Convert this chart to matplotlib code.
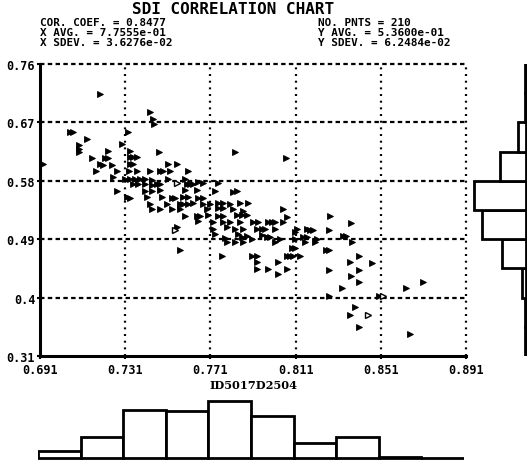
import matplotlib
matplotlib.use("Agg")
import matplotlib.pyplot as plt
import numpy as np

plt.rcParams['lines.scale_dashes'] = False

# ---------------- data ----------------
title = "SDI CORRELATION CHART"
stats_left = ["COR. COEF. = 0.8477", "X AVG. = 7.7555e-01", "X SDEV. = 3.6276e-02"]
stats_right = ["NO. PNTS = 210", "Y AVG. = 5.3600e-01", "Y SDEV. = 6.2484e-02"]
x_label = "ID5017D2504"

x_ticks = [0.691, 0.731, 0.771, 0.811, 0.851, 0.891]
x_tick_labels = ["0.691", "0.731", "0.771", "0.811", "0.851", "0.891"]
y_ticks = [0.31, 0.40, 0.49, 0.58, 0.67, 0.76]
y_tick_labels = ["0.31", "0.4", "0.49", "0.58", "0.67", "0.76"]

x_filled = [
    0.6924, 0.7192, 0.7051, 0.7065, 0.7131, 0.7093, 0.7093, 0.7093, 0.7229, 0.7154,
    0.7215, 0.7229, 0.7192, 0.7206, 0.7248, 0.7173, 0.7272, 0.7253,
    0.7295, 0.7323, 0.7333, 0.7333, 0.7347, 0.7365, 0.7333, 0.7347, 0.7328, 0.7365,
    0.7333, 0.7356, 0.7380, 0.7403, 0.7309, 0.7347, 0.7370, 0.7403, 0.7272, 0.7318, 0.7333,
    0.7426, 0.7441, 0.7445, 0.7469, 0.7826, 0.8065, 0.7511, 0.7553, 0.7426, 0.7473,
    0.7487, 0.7520, 0.7605, 0.7436, 0.7511, 0.7591, 0.7652, 0.7675, 0.7746, 0.7436,
    0.7459, 0.7473, 0.7600, 0.7614, 0.7628,
    0.7403, 0.7436, 0.7473, 0.7591, 0.7647, 0.7732, 0.7816, 0.7835,
    0.7412, 0.7483, 0.7530, 0.7544, 0.7581, 0.7605, 0.7652, 0.7675,
    0.7426, 0.7506, 0.7567, 0.7581, 0.7605, 0.7628, 0.7675, 0.7708, 0.7746, 0.7769,
    0.7802, 0.7849, 0.7887,
    0.7436, 0.7473, 0.7530, 0.7567, 0.7694, 0.7746, 0.7769, 0.7816, 0.7863, 0.8051,
    0.7591, 0.7647, 0.7661, 0.7699, 0.7746, 0.7769, 0.7835, 0.7858, 0.7882, 0.8070, 0.8272,
    0.7652, 0.7722, 0.7769, 0.7802, 0.7849, 0.7910, 0.7934, 0.7980, 0.7999, 0.8013,
    0.8051, 0.8370,
    0.7553, 0.7722, 0.7788, 0.7826, 0.7863, 0.7929, 0.7952, 0.7966, 0.8013, 0.8117,
    0.8164, 0.8178, 0.8192, 0.8267,
    0.7732, 0.7840, 0.7952, 0.7976, 0.7990, 0.7779, 0.7858, 0.7882, 0.7905, 0.8037,
    0.8107, 0.8107, 0.8145, 0.8164, 0.8211, 0.8333, 0.8347, 0.7788, 0.7863, 0.8013,
    0.8154, 0.8201, 0.8375, 0.7826,
    0.7567, 0.8093, 0.8107, 0.8253, 0.8267, 0.7765, 0.7905, 0.7929, 0.8070, 0.8084,
    0.8098, 0.8131, 0.8408,
    0.7929, 0.8027, 0.8365, 0.8469, 0.7929, 0.7980, 0.8070, 0.8267, 0.8408, 0.8027, 0.8370,
    0.8408, 0.8708, 0.8328, 0.8628, 0.8267, 0.8502, 0.8389, 0.8365, 0.8408, 0.8647,
]
y_filled = [
    0.6059, 0.7138, 0.6552, 0.6552, 0.6444, 0.6352, 0.6290, 0.6244, 0.6259, 0.6151,
    0.6151, 0.6151, 0.6059, 0.6043, 0.6043, 0.5951, 0.5951, 0.5859,
    0.6367, 0.6552, 0.6259, 0.6167, 0.6167, 0.6167, 0.6059, 0.6059, 0.5951, 0.5951,
    0.5828, 0.5828, 0.5828, 0.5828, 0.5828, 0.5751, 0.5751, 0.5751, 0.5643, 0.5550, 0.5535,
    0.6860, 0.6752, 0.6675, 0.6244, 0.6244, 0.6151, 0.6059, 0.6059, 0.5951, 0.5951,
    0.5951, 0.5951, 0.5951, 0.5812, 0.5828, 0.5828, 0.5782, 0.5766, 0.5766, 0.5735,
    0.5751, 0.5751, 0.5751, 0.5751, 0.5751,
    0.5643, 0.5643, 0.5658, 0.5658, 0.5658, 0.5643, 0.5627, 0.5643,
    0.5550, 0.5550, 0.5535, 0.5535, 0.5550, 0.5550, 0.5535, 0.5535,
    0.5443, 0.5443, 0.5443, 0.5443, 0.5443, 0.5458, 0.5443, 0.5443, 0.5458, 0.5458,
    0.5443, 0.5458, 0.5458,
    0.5365, 0.5365, 0.5365, 0.5365, 0.5365, 0.5381, 0.5381, 0.5365, 0.5335, 0.5365,
    0.5258, 0.5258, 0.5258, 0.5273, 0.5258, 0.5258, 0.5273, 0.5273, 0.5273, 0.5242, 0.5258,
    0.5181, 0.5165, 0.5165, 0.5165, 0.5165, 0.5165, 0.5165, 0.5165, 0.5165, 0.5165,
    0.5165, 0.5150,
    0.5088, 0.5057, 0.5088, 0.5057, 0.5057, 0.5057, 0.5057, 0.5057, 0.5057, 0.5057,
    0.5057, 0.5042, 0.5042, 0.5042,
    0.4980, 0.4980, 0.4965, 0.4934, 0.4934, 0.4918, 0.4934, 0.4949, 0.4903, 0.4903,
    0.4903, 0.5011, 0.4934, 0.4934, 0.4903, 0.4949, 0.4949, 0.4857, 0.4857, 0.4857,
    0.4857, 0.4857, 0.4857, 0.4857,
    0.4734, 0.4764, 0.4764, 0.4734, 0.4734, 0.4641, 0.4641, 0.4641, 0.4641, 0.4641,
    0.4641, 0.4641, 0.4641,
    0.4549, 0.4549, 0.4549, 0.4533, 0.4441, 0.4441, 0.4441, 0.4425, 0.4425, 0.4364, 0.4333,
    0.4240, 0.4240, 0.4148, 0.4148, 0.4025, 0.4025, 0.3855, 0.3732, 0.3547, 0.3439,
]
x_open = [0.7553, 0.7544, 0.8520, 0.8450]
y_open = [0.5766, 0.5042, 0.4025, 0.3732]

# marginal histograms (bin edges follow the axis ranges, 10 bins each)
x_bin_edges = [0.691, 0.711, 0.731, 0.751, 0.771, 0.791, 0.811, 0.831, 0.851, 0.871, 0.891]
x_hist_counts = [6, 17, 39, 38, 46, 34, 12, 17, 1, 0]
y_bin_edges = [0.31, 0.355, 0.40, 0.445, 0.49, 0.535, 0.58, 0.625, 0.67, 0.715, 0.76]
y_hist_counts = [1, 2, 6, 31, 57, 67, 34, 10, 1, 1]

# ---------------- figure ----------------
W, H = 527, 464
fig = plt.figure(figsize=(W / 100, H / 100), dpi=100)
mono = 'DejaVu Sans Mono'

ax = fig.add_axes([40 / W, 1 - 357 / H, 426 / W, 292 / H])
ax.set_xlim(x_ticks[0], x_ticks[-1])
ax.set_ylim(y_ticks[0], y_ticks[-1])

for xv in x_ticks[1:]:
    ax.axvline(xv, color='black', lw=1.6, ls=(0, (1.4, 3.4)), clip_on=False, zorder=1)
for yv in y_ticks[1:]:
    ax.axhline(yv, color='black', lw=1.6, ls=(0, (3.2, 2.4)), clip_on=False, zorder=1)

for s in ['top', 'right']:
    ax.spines[s].set_visible(False)
for s in ['left', 'bottom']:
    ax.spines[s].set_linewidth(2.2)

ax.set_xticks(x_ticks)
ax.set_xticklabels(x_tick_labels)
ax.set_yticks(y_ticks)
ax.set_yticklabels(y_tick_labels)
ax.tick_params(axis='both', length=2, width=1.5, direction='out')
ax.tick_params(axis='x', pad=3)
ax.tick_params(axis='y', pad=1.5)
for lab in ax.get_xticklabels() + ax.get_yticklabels():
    lab.set_fontfamily(mono)
    lab.set_fontweight('bold')
    lab.set_fontsize(8.5)

ax.set_xlabel(x_label, fontfamily='DejaVu Serif', fontweight='bold', fontsize=8.2, labelpad=2)

ax.plot(x_filled, y_filled, '>', ms=3.8, color='black', mew=0.6, ls='none', zorder=3)
ax.plot(x_open, y_open, '>', ms=3.8, mfc='white', mec='black', mew=1.0, ls='none', zorder=3)

# title and statistics
fig.text(233 / W, 1 - 9 / H, title, ha='center', va='center',
         fontfamily=mono, fontweight='bold', fontsize=11.5)
ys = [23.5, 33, 42.5]
for t, yy in zip(stats_left, ys):
    fig.text(40 / W, 1 - yy / H, t, ha='left', va='center',
             fontfamily=mono, fontweight='bold', fontsize=7.9)
for t, yy in zip(stats_right, ys):
    fig.text(318 / W, 1 - yy / H, t, ha='left', va='center',
             fontfamily=mono, fontweight='bold', fontsize=7.9)

# bottom histogram
axb = fig.add_axes([38 / W, 0, 426 / W, 69 / H])
axb.bar(x_bin_edges[:-1], x_hist_counts, width=np.diff(x_bin_edges), align='edge',
        facecolor='white', edgecolor='black', linewidth=2.0)
axb.set_xlim(x_ticks[0], x_ticks[-1])
axb.set_ylim(-4, 51.6)
axb.axis('off')

# right histogram
axr = fig.add_axes([468 / W, 1 - 357 / H, 59 / W, 292 / H])
axr.barh(y_bin_edges[:-1], y_hist_counts, height=np.diff(y_bin_edges), align='edge',
         facecolor='white', edgecolor='black', linewidth=2.0)
axr.set_xlim(75, -1)
axr.set_ylim(y_ticks[0], y_ticks[-1])
axr.axis('off')

fig.savefig('out.png', dpi=100)
